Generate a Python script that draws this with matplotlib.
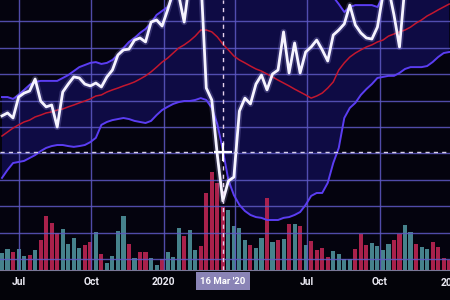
import matplotlib
matplotlib.use("Agg")
import matplotlib.pyplot as plt
import matplotlib.transforms as mtransforms
import pandas as pd

# ---------------- data (weekly bars) ----------------
first_week = "2019-06-10"
n_weeks = 82

close = [114.2, 115.3, 113.4, 121.3, 122.8, 123.6, 128.1, 119.8, 117.6, 118.3,
         110.0, 123.2, 126.2, 128.9, 128.5, 126.2, 125.5, 126.6, 125.1, 128.9,
         131.5, 137.2, 139.1, 139.4, 142.8, 143.6, 142.1, 149.6, 150.4, 148.1,
         154.2, 161.0, 159.8, 149.6, 165.5, 169.3, 167.4, 124.7, 120.2, 99.4,
         82.1, 89.6, 91.1, 116.0, 120.9, 118.7, 126.2, 129.6, 124.0, 130.0,
         131.5, 145.9, 130.4, 141.7, 130.4, 138.3, 140.2, 142.8, 139.1, 134.9,
         144.7, 146.6, 148.9, 156.0, 148.5, 145.5, 143.6, 143.2, 147.7, 159.8,
         162.5, 152.3, 140.2, 163.6, 165.5, 167.4, 165.5, 169.3, 171.1, 169.3,
         173.0, 174.9]

upper_band = [121.3, 121.3, 120.6, 122.1, 124.0, 125.9, 127.0, 127.4, 127.4, 127.4,
              127.4, 128.5, 129.6, 131.1, 132.6, 133.4, 134.2, 134.5, 133.8, 134.2,
              135.3, 137.2, 139.8, 142.1, 143.6, 145.5, 147.0, 149.2, 152.3, 153.8,
              155.3, 159.1, 161.7, 162.1, 165.1, 168.5, 172.3, 173.0, 174.5, 176.8,
              181.3, 188.1, 189.2, 190.0, 190.0, 189.2, 187.7, 186.6, 185.1, 182.8,
              180.6, 177.6, 174.9, 171.9, 168.5, 164.7, 162.5, 161.7, 161.7, 160.9,
              159.1, 156.4, 153.4, 155.3, 156.0, 156.0, 156.0, 156.0, 155.3, 159.1,
              161.7, 161.3, 161.7, 161.7, 162.8, 165.8, 168.1, 170.8, 171.5, 171.9,
              172.6, 174.5]

middle_band = [106.6, 108.1, 109.6, 110.8, 111.9, 112.6, 113.8, 114.5, 115.3, 115.7,
               116.4, 116.8, 117.6, 118.3, 119.1, 119.8, 120.6, 121.7, 122.1, 123.2,
               124.0, 124.7, 125.5, 126.2, 127.0, 128.1, 129.3, 130.8, 132.6, 134.5,
               136.0, 137.9, 139.8, 141.0, 142.5, 144.3, 146.6, 146.6, 145.9, 144.0,
               141.3, 139.1, 136.8, 135.3, 134.2, 133.0, 131.9, 131.1, 130.0, 128.9,
               127.7, 126.6, 125.5, 124.3, 123.2, 122.1, 120.9, 121.7, 122.8, 124.7,
               127.0, 131.5, 134.2, 136.4, 137.9, 139.1, 140.2, 141.0, 142.1, 142.8,
               144.3, 145.1, 145.9, 146.6, 147.7, 149.2, 150.4, 151.9, 153.0, 154.2,
               155.3, 156.4]

lower_band = [90.8, 93.8, 96.4, 96.8, 97.2, 98.3, 99.4, 100.9, 102.1, 102.8,
              103.2, 103.2, 102.8, 102.5, 102.8, 103.2, 104.3, 105.9, 110.8, 111.9,
              112.6, 113.0, 113.4, 113.0, 112.3, 111.9, 111.5, 112.3, 114.5, 116.4,
              117.6, 118.7, 119.4, 119.8, 119.8, 120.2, 120.9, 120.2, 117.2, 111.1,
              101.3, 90.0, 84.3, 80.6, 78.3, 76.8, 76.0, 75.7, 74.9, 74.9,
              74.9, 75.7, 76.0, 76.8, 77.9, 80.6, 84.0, 85.1, 85.1, 88.9,
              96.4, 102.1, 113.4, 117.2, 119.1, 122.1, 124.3, 126.2, 128.5, 128.9,
              129.3, 129.3, 130.4, 131.9, 132.6, 132.6, 132.6, 133.0, 134.5, 136.4,
              137.9, 138.3]

volume_m = [1.7, 2.1, 1.8, 2.1, 1.4, 1.5, 2.0, 3.0, 5.4, 4.7,
            3.7, 4.1, 2.6, 3.2, 2.2, 2.5, 2.8, 3.8, 1.6, 0.7,
            1.4, 3.9, 5.4, 2.6, 1.2, 1.8, 1.8, 1.2, 0.5, 1.1,
            1.8, 1.3, 4.2, 3.4, 4.0, 2.0, 2.4, 7.7, 9.8, 8.7,
            6.3, 6.0, 4.4, 4.2, 3.0, 2.5, 2.2, 3.2, 7.2, 2.8,
            3.0, 3.1, 4.6, 4.6, 4.4, 2.5, 2.9, 2.0, 2.2, 1.3,
            1.9, 1.6, 1.1, 1.1, 2.1, 3.6, 2.5, 2.7, 2.4, 2.0,
            2.6, 3.0, 3.6, 4.5, 3.8, 2.6, 2.3, 2.1, 2.8, 2.3,
            1.2, 1.0]

# u = up week (teal), d = down week (red)
direction = list("uuduududdd" "duuuuddudu" "uuududduud" "uuuduudddd"
                 "duuuuduudu" "dudududddd" "uuuuddduuu" "udduuduudd" "dd")

tick_dates = ["2019-07-01", "2019-10-01", "2020-01-01",
              "2020-07-01", "2020-10-01"]
tick_labels = ["Jul", "Oct", "2020", "Jul", "Oct"]
hidden_grid_dates = ["2020-04-01"]          # its label sits under the crosshair box
edge_label_date = "2021-01-01"
edge_label = "2021"

crosshair_date = "2020-03-16"
crosshair_price = 100.6
crosshair_label = "16 Mar '20"

price_grid = [60, 70, 80, 90, 100, 110, 120, 130, 140, 150]
price_limits = (56.03, 157.93)
volume_limits = (0, 27.0)
x_limits = ("2019-06-07 11:00", "2020-12-29 01:00")

# ---------------- styling ----------------
BG = "#030309"
PANEL = "#04030e"
BAND_FILL = "#0e0b44"
GRID = "#5e59c4"
PRICE = "#f6f4ff"
BAND = "#5b3df2"
MID = "#c3172f"
UP = "#4a8a94"
DOWN = "#b3234f"
FONT = ["Roboto", "DejaVu Sans"]

dates = pd.date_range(first_week, periods=n_weeks, freq="7D")

fig = plt.figure(figsize=(4.5, 3), dpi=100, facecolor=BG)
rect = [0, 0.1, 1, 0.9]
ax_bg = fig.add_axes(rect, label="bands")
ax_vol = fig.add_axes(rect, label="volume", sharex=ax_bg)
ax = fig.add_axes(rect, label="price", sharex=ax_bg)
ax_bg.set_zorder(0)
ax_vol.set_zorder(1)
ax.set_zorder(2)

# band fill (background layer)
ax_bg.set_facecolor(PANEL)
ax_bg.fill_between(dates, lower_band, upper_band, color=BAND_FILL, lw=0)
ax_bg.set_ylim(*price_limits)

# volume layer
ax_vol.patch.set_visible(False)
bar_colors = [UP if d == "u" else DOWN for d in direction]
ax_vol.bar(dates, volume_m, width=5.2, color=bar_colors, alpha=0.95, lw=0)
ax_vol.set_ylim(*volume_limits)

# price layer
ax.patch.set_visible(False)
ax.set_ylim(*price_limits)
ax.set_xlim(pd.Timestamp(x_limits[0]), pd.Timestamp(x_limits[1]))
ax.set_yticks(price_grid)
ax.set_xticks(pd.to_datetime(tick_dates))
ax.set_xticklabels(tick_labels)
ax.set_xticks(pd.to_datetime(hidden_grid_dates), minor=True)
ax.grid(True, which="both", color=GRID, lw=1.0, alpha=0.85)

ax.plot(dates, middle_band, color=MID, lw=1.1)
ax.plot(dates, upper_band, color=BAND, lw=1.4)
ax.plot(dates, lower_band, color=BAND, lw=1.4)
ax.plot(dates, close, color="#b9b2ff", lw=4.5, alpha=0.22, solid_capstyle="round")
ax.plot(dates, close, color=PRICE, lw=2.0)

cd = pd.Timestamp(crosshair_date)
ax.axvline(cd, color="#e4d0ea", lw=1.0, ls=(0, (3, 3)))
ax.axhline(crosshair_price, color="#d6cfea", lw=1.0, ls=(0, (3, 3)))
ax.plot([cd], [crosshair_price], marker="+", ms=13, mew=1.6, color="white")

for a in (ax_bg, ax_vol, ax):
    for s in a.spines.values():
        s.set_visible(False)
    a.tick_params(which="both", left=False, labelleft=False,
                  right=False, labelright=False)
for a in (ax_bg, ax_vol):
    a.tick_params(which="both", bottom=False, labelbottom=False)
    a.grid(False)

ax.spines["bottom"].set_visible(True)
ax.spines["bottom"].set_color("#7a7898")
ax.spines["bottom"].set_linewidth(0.8)
ax.tick_params(axis="x", which="both", length=0, pad=5, colors="#ecebf4",
               labelsize=7.4)
for lbl in ax.get_xticklabels():
    lbl.set_fontfamily(FONT)
    lbl.set_fontweight("bold")

blend = mtransforms.blended_transform_factory(ax.transData, ax.transAxes)
ax.text(pd.Timestamp(edge_label_date), -0.05, edge_label, transform=blend,
        ha="center", va="center", fontsize=7.4, fontweight="bold",
        family=FONT, color="#ecebf4", clip_on=False)
ax.text(cd, -0.041, crosshair_label, transform=blend, ha="center", va="center",
        fontsize=6.8, fontweight="bold", family=FONT, color="white", zorder=10,
        bbox=dict(boxstyle="square,pad=0.45", fc="#8a84b6", ec="none"))

fig.savefig("out.png", dpi=100, facecolor=BG)
